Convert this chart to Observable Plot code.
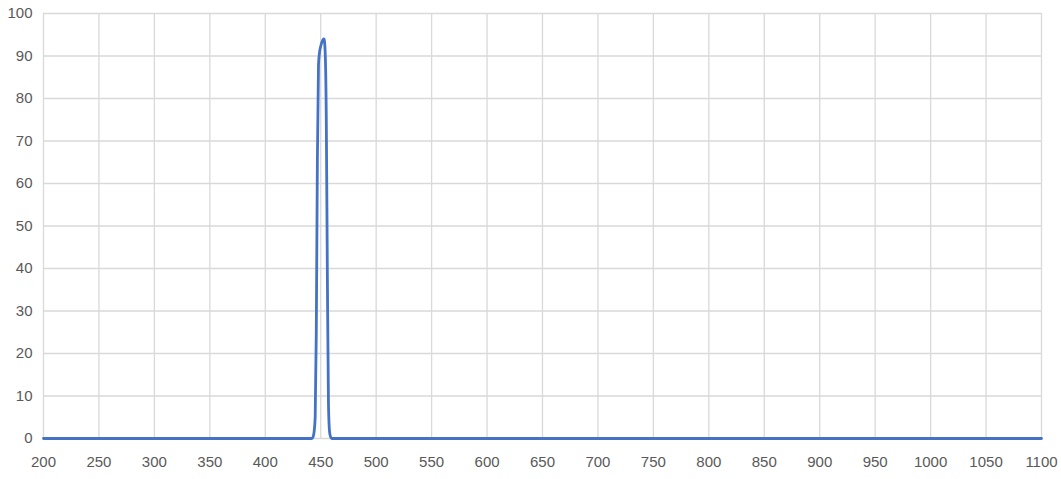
<!DOCTYPE html>
<html><head><meta charset="utf-8">
<script src="https://cdn.jsdelivr.net/npm/d3@7"></script>
<script src="https://cdn.jsdelivr.net/npm/@observablehq/plot@0.6"></script>
<style>body{margin:0;background:#fff;} svg{display:block;}</style>
</head><body><div id="chart"></div>
<script>
const peakWavelengths = [200, 442, 443, 444, 445, 446, 447, 448, 449, 450, 451, 452, 453, 454, 455, 456, 457, 458, 459, 460, 1100];
const transmission   = [0,   0,   0.3, 1.5, 5,   25,  66,  88,  91,  92.3,93.2,93.8,94,  91,  76,  38,  8,   1.5, 0.3, 0,   0];
const xTicks = d3.range(200, 1101, 50);
const yTicks = d3.range(0, 101, 10);
const data = peakWavelengths.map((x, i) => ({x, y: transmission[i]}));
const chart = Plot.plot({
  width: 1061, height: 479,
  marginLeft: 43, marginRight: 20, marginTop: 13, marginBottom: 41,
  style: {fontFamily: "Liberation Sans, Arial, sans-serif", fontSize: "15px", color: "#595959", background: "#fff"},
  x: {domain: [200, 1100], label: null},
  y: {domain: [0, 100], label: null},
  marks: [
    Plot.ruleX(xTicks, {stroke: "#d9d9d9", strokeWidth: 1.3}),
    Plot.ruleY(yTicks, {stroke: "#d9d9d9", strokeWidth: 1.3}),
    Plot.line(data, {x: "x", y: "y", stroke: "#4472C4", strokeWidth: 2.8, curve: "monotone-x"}),
    Plot.axisX({ticks: xTicks, tickSize: 0, tickPadding: 18, tickFormat: d => String(d), fill: "#595959", fontSize: 15}),
    Plot.axisY({ticks: yTicks, tickSize: 0, tickPadding: 11, tickFormat: d => String(d), fill: "#595959", fontSize: 15})
  ]
});
document.getElementById("chart").append(chart);
</script></body></html>
